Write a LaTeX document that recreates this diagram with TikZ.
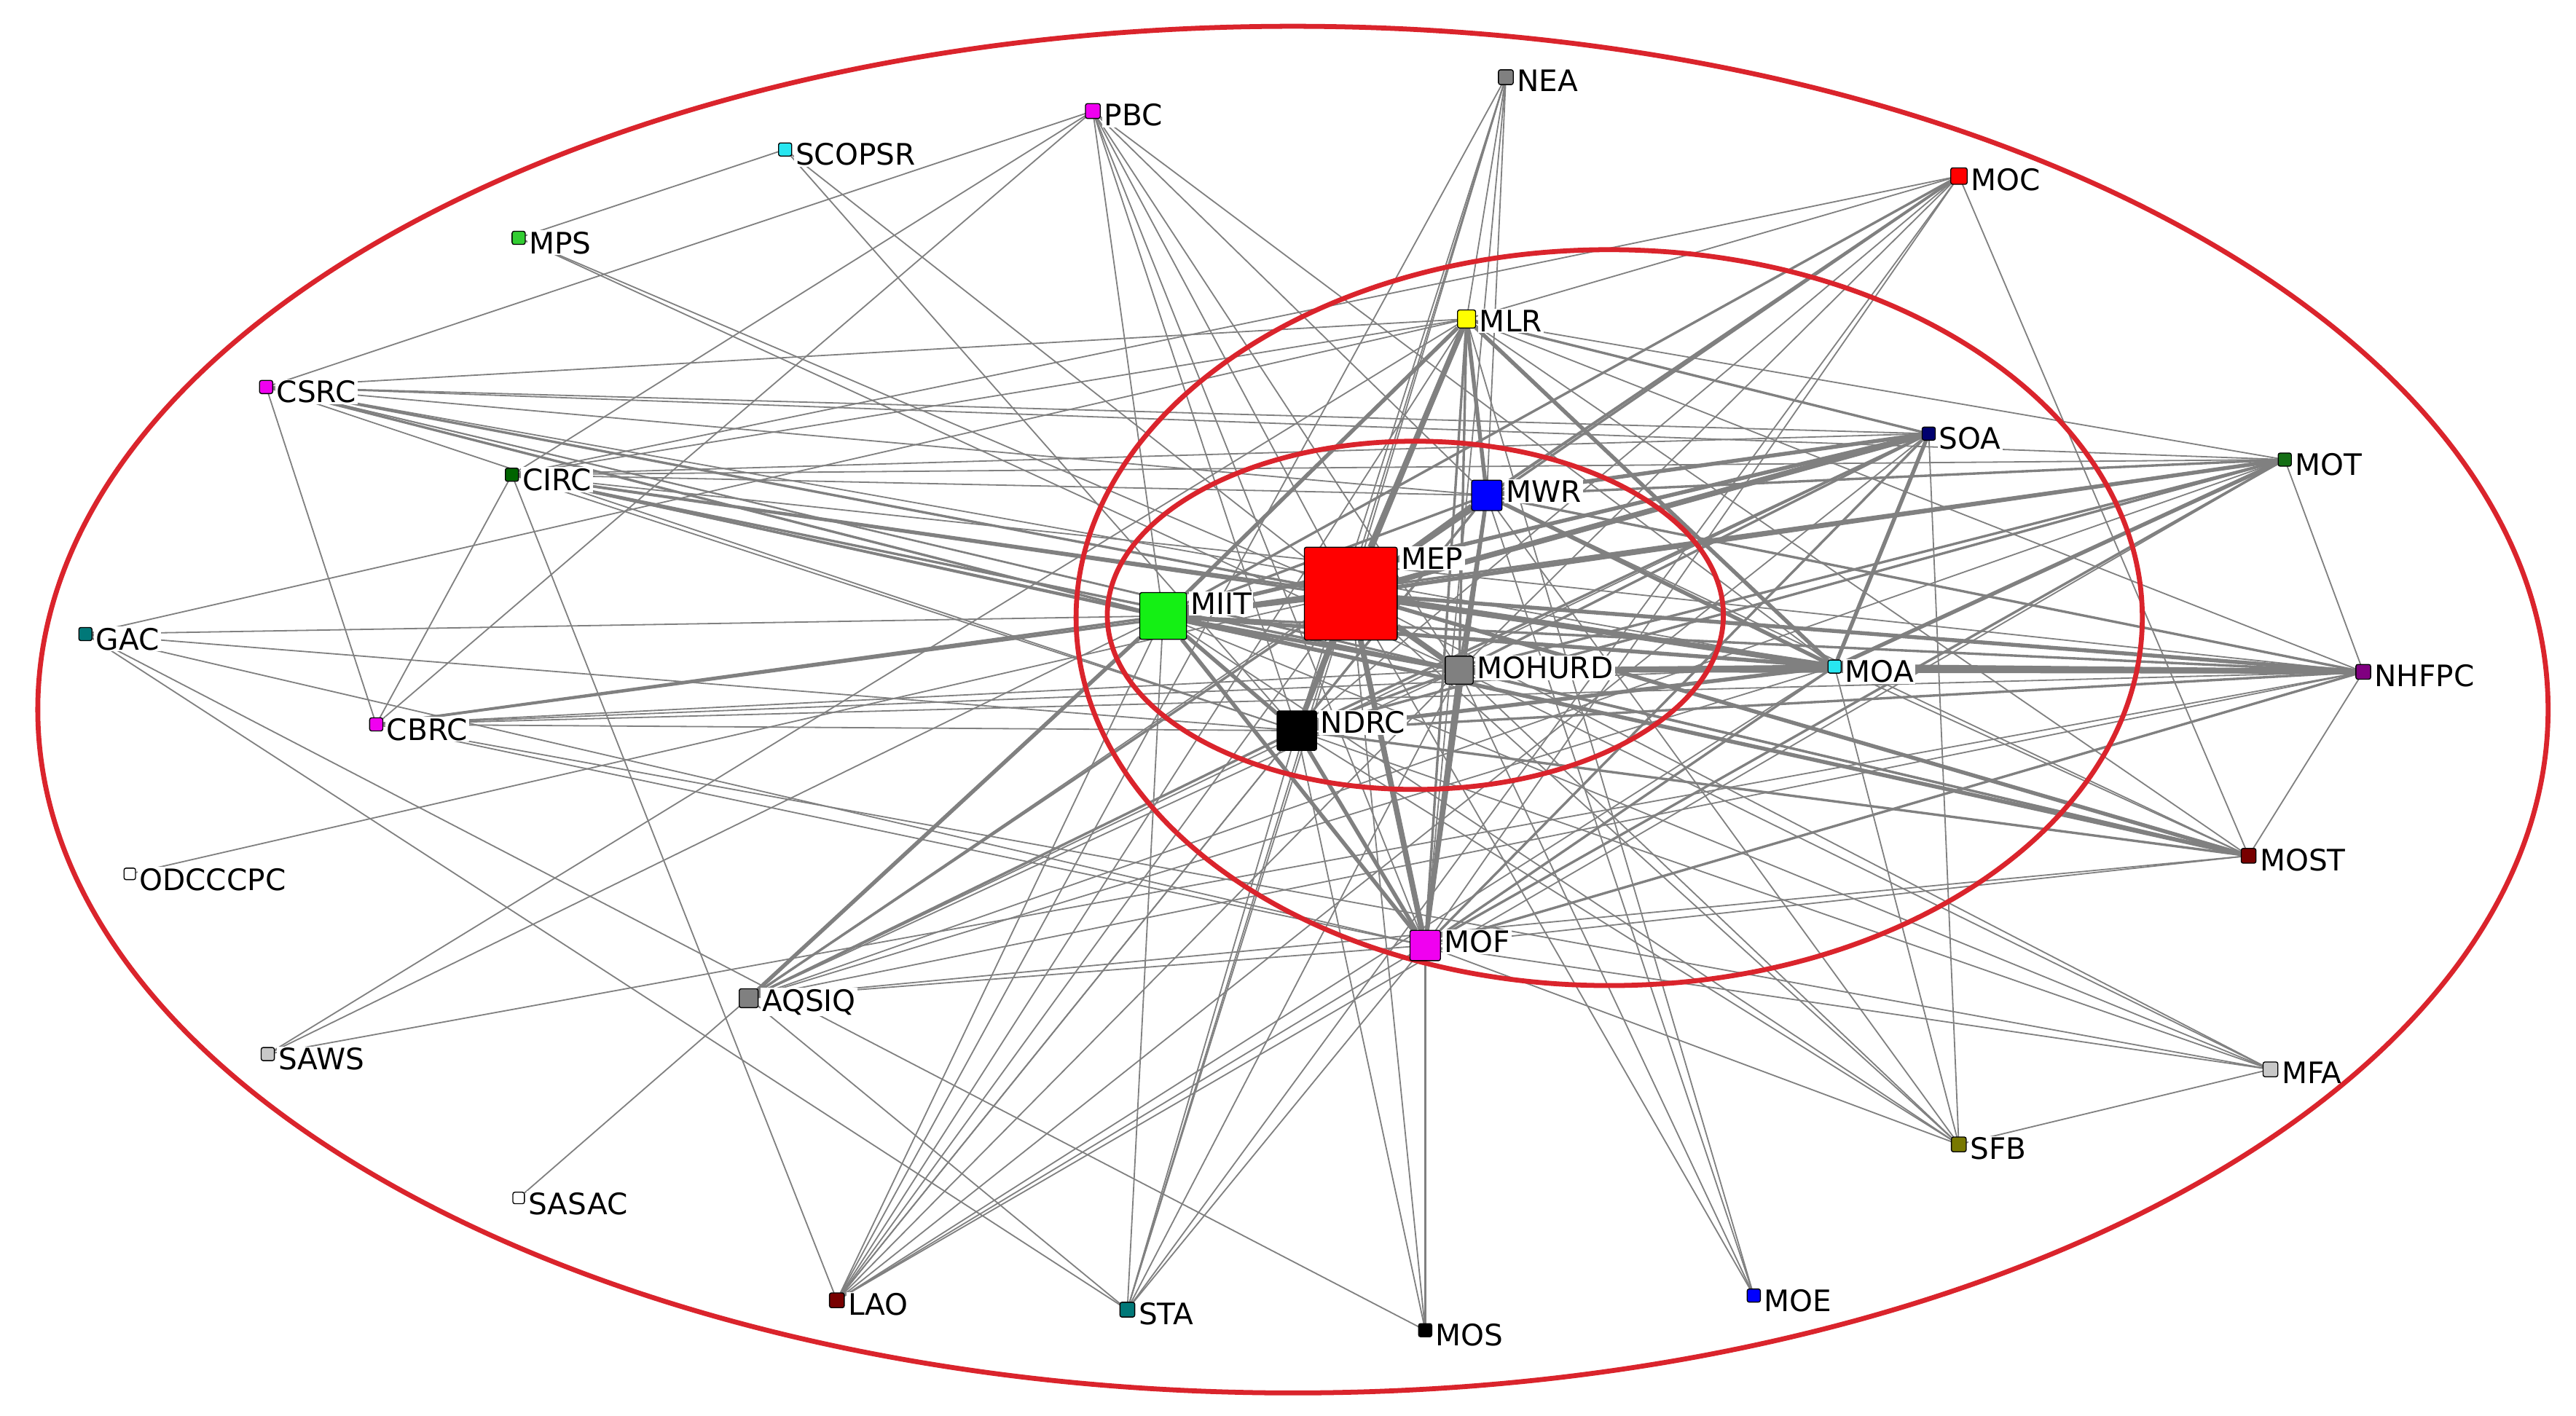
\documentclass[tikz,border=0pt]{standalone}
\usepackage{fontspec}
\setmainfont{DejaVu Sans}
\pgfdeclarelayer{edgelayer}
\pgfdeclarelayer{labellayer}
\pgfdeclarelayer{ringlayer}
\pgfsetlayers{edgelayer,labellayer,ringlayer,main}
\definecolor{edgegray}{RGB}{128,128,128}
\definecolor{ringred}{RGB}{218,36,44}
\definecolor{cMag}{RGB}{240,0,240}
\definecolor{cCyan}{RGB}{40,230,240}
\definecolor{cGreen}{RGB}{50,205,50}
\definecolor{cLime}{RGB}{20,240,20}
\definecolor{cDkGreen}{RGB}{0,100,0}
\definecolor{cGreenT}{RGB}{20,110,20}
\definecolor{cNavy}{RGB}{0,0,110}
\definecolor{cTeal}{RGB}{0,120,120}
\definecolor{cPurple}{RGB}{128,0,128}
\definecolor{cMaroon}{RGB}{120,0,0}
\definecolor{cOlive}{RGB}{120,120,0}
\definecolor{cLtGray}{RGB}{200,200,200}
\definecolor{cGray}{RGB}{128,128,128}
\definecolor{cYellow}{RGB}{255,255,0}
\definecolor{cBlue}{RGB}{0,0,255}
\definecolor{cRed}{RGB}{255,0,0}
\newcommand{\lbfont}{\fontsize{18}{20}\selectfont}
\begin{document}
\begin{tikzpicture}[x=1pt,y=-1pt,
  nd/.style={draw=black, line width=0.6pt, rounded corners=1.2pt, minimum size=#1, inner sep=0pt, outer sep=0pt},
  lb/.style={font=\lbfont, fill=white, inner xsep=1pt, inner ysep=0.8pt, anchor=north west},
  ring/.style={draw=ringred, line width=3pt},
  ea/.style={draw=edgegray, line width=0.8pt},
  eb/.style={draw=edgegray, line width=1.5pt},
  ec/.style={draw=edgegray, line width=2.4pt},
  ed/.style={draw=edgegray, line width=3.4pt}]
\useasboundingbox (0,0) rectangle (1568,862);
% nodes
\foreach \n/\x/\y/\s/\c in {
  NEA/916.6/47/9/cGray, PBC/665.2/67.6/9/cMag, SCOPSR/477.9/91/8/cCyan,
  MPS/315.7/144.8/8/cGreen, MOC/1192.4/107.2/10/cRed, MLR/892.7/194.2/11/cYellow,
  CSRC/162/235.6/8/cMag, CIRC/311.6/289/8/cDkGreen, SOA/1174/264/8/cNavy,
  MOT/1390.7/279.8/8/cGreenT, MWR/905/301.6/18.5/cBlue, MEP/822.2/361.4/56.5/cRed,
  MIIT/708/375/28.5/cLime, GAC/52/386/8/cTeal, MOHURD/888.2/408/17/cGray,
  MOA/1116.7/405.8/8/cCyan, NHFPC/1438.5/409/9/cPurple, CBRC/229/441/8/cMag,
  NDRC/789.4/444.8/24/black, ODCCCPC/79/532/7/white, MOST/1368.7/521/9/cMaroon,
  MOF/867.5/575.6/18.5/cMag, AQSIQ/455.7/607.7/11.5/cGray, SAWS/163/641.7/8/cLtGray,
  MFA/1382/651/9/cLtGray, SFB/1192.3/696.7/9/cOlive, SASAC/315.7/729.3/7/white,
  LAO/509.4/791.6/9/cMaroon, STA/686.2/797.3/9/cTeal, MOS/867.5/809.8/8/black,
  MOE/1067.5/788.7/8/cBlue}
  {\node[nd=\s pt, fill=\c] (\n) at (\x,\y) {};}
% labels
\begin{pgfonlayer}{labellayer}
\foreach \n in {NEA,PBC,SCOPSR,MPS,MOC,MLR,CSRC,CIRC,SOA,MOT,MWR,MEP,MIIT,GAC,MOHURD,MOA,NHFPC,CBRC,NDRC,ODCCCPC,MOST,MOF,AQSIQ,SAWS,MFA,SFB,SASAC,LAO,STA,MOS,MOE}
  {\node[lb] (l\n) at ([xshift=1.2pt,yshift=0.8pt]\n.north east) {\n};}
\end{pgfonlayer}
% rings
\begin{pgfonlayer}{ringlayer}
\draw[ring] (787,432) ellipse [x radius=764pt, y radius=416pt];
\draw[ring] (979.5,376) ellipse [x radius=324.5pt, y radius=224pt];
\draw[ring] (861.5,374.6) ellipse [x radius=187.5pt, y radius=106pt];
\end{pgfonlayer}
% edges
\begin{pgfonlayer}{edgelayer}
\fill[white] (0,0) rectangle (1568,862);
\foreach \a/\b in {
 PBC/CSRC, PBC/CIRC, PBC/CBRC, PBC/MIIT, PBC/NDRC, PBC/MEP, PBC/MOF, PBC/MOHURD, PBC/MWR, PBC/MOA,
 SCOPSR/MPS, SCOPSR/NDRC, SCOPSR/MEP, MPS/MEP, MPS/MOHURD,
 CSRC/CBRC, CSRC/MWR, CSRC/MOHURD, CSRC/NDRC, CSRC/MOA, CSRC/SOA, CSRC/MOT, CSRC/MOST,
 CIRC/CBRC, CIRC/LAO, CIRC/MLR, CIRC/MWR, CIRC/NDRC, CIRC/SOA, CIRC/MOT, CIRC/NHFPC, CIRC/MOST, CIRC/MOC,
 GAC/MLR, GAC/MIIT, GAC/NDRC, GAC/MOF, GAC/STA, GAC/MOS,
 CBRC/NDRC, CBRC/MOHURD, CBRC/MOA, CBRC/NHFPC, CBRC/MOF, CBRC/MFA,
 ODCCCPC/MEP, SAWS/MIIT, SAWS/MLR, SAWS/NHFPC, SASAC/AQSIQ,
 AQSIQ/MOHURD, AQSIQ/MOA, AQSIQ/SOA, AQSIQ/MOF, AQSIQ/STA, AQSIQ/MOC, AQSIQ/MOT, AQSIQ/NHFPC, AQSIQ/MOST,
 LAO/NEA, LAO/MIIT, LAO/MEP, LAO/NDRC, LAO/MOHURD, LAO/MWR, LAO/MLR, LAO/MOA, LAO/SOA, LAO/MOF, LAO/MOT,
 STA/MIIT, STA/NEA, STA/NDRC, STA/MEP, STA/MOHURD, STA/MOC, STA/MOF,
 MOS/MEP, MOS/NDRC, MOE/MEP, MOE/MWR, MOE/MLR, MOE/MOHURD,
 SFB/MFA, SFB/SOA, SFB/MOA, SFB/MEP, SFB/MIIT, SFB/NDRC, SFB/MOHURD, SFB/MWR, SFB/MOF,
 MFA/MOF, MFA/MIIT, MFA/NDRC, MFA/MOHURD, MFA/MEP,
 MOST/MOC, MOST/NHFPC, MOST/MOF, MOST/MWR, MOST/MOA, NHFPC/MOT, NHFPC/MLR, MOT/MLR,
 MOC/MLR, MOC/NDRC, MOC/MOHURD, MOC/MOF,
 NEA/MLR, NEA/MWR, NEA/MEP, NEA/NDRC, NEA/MOF, MLR/CSRC, MLR/MOST}
 {\draw[ea] (\a) -- (\b);}
\foreach \a/\b in {
 NDRC/MOHURD, NDRC/MWR, MIIT/MWR, MOHURD/MWR, SOA/NDRC, SOA/MOHURD, MOT/MIIT, MOT/MWR,
 MOT/MOHURD, MOT/NDRC, NHFPC/MIIT, NHFPC/NDRC, MOST/MOHURD, MOST/NDRC, CIRC/MEP, CIRC/MIIT,
 CSRC/MIIT, CSRC/MEP, MLR/MOHURD, MOF/MOA, MOF/SOA, MOF/MOT, AQSIQ/MEP, AQSIQ/NDRC,
 MOC/MEP, MOC/MIIT, MOC/MWR, CBRC/MIIT, CBRC/MEP, MWR/NHFPC, MLR/SOA, MLR/MOF,
 NHFPC/MOF, CIRC/MOHURD, CIRC/MOA, MOS/MOF}
 {\draw[eb] (\a) -- (\b);}
\foreach \a/\b in {
 MIIT/NDRC, MIIT/MOF, NDRC/MOF, MWR/MOF, MOHURD/MOA, MEP/MOST, MEP/MOT, MEP/NHFPC,
 MLR/MWR, MLR/MIIT, MLR/NDRC, MLR/MOA, MIIT/MOA, NDRC/MOA, SOA/MIIT, SOA/MOA, SOA/MWR,
 MOT/MOA, MIIT/MOST, AQSIQ/MIIT, MOHURD/MOF, MIIT/MOHURD, MWR/MOA, MOHURD/NHFPC}
 {\draw[ec] (\a) -- (\b);}
\foreach \a/\b in {
 MEP/MIIT, MEP/NDRC, MEP/MOHURD, MEP/MWR, MEP/MOA, MOA/NHFPC, MEP/MLR, MEP/SOA, MEP/MOF}
 {\draw[ed] (\a) -- (\b);}
\end{pgfonlayer}
\end{tikzpicture}
\end{document}
